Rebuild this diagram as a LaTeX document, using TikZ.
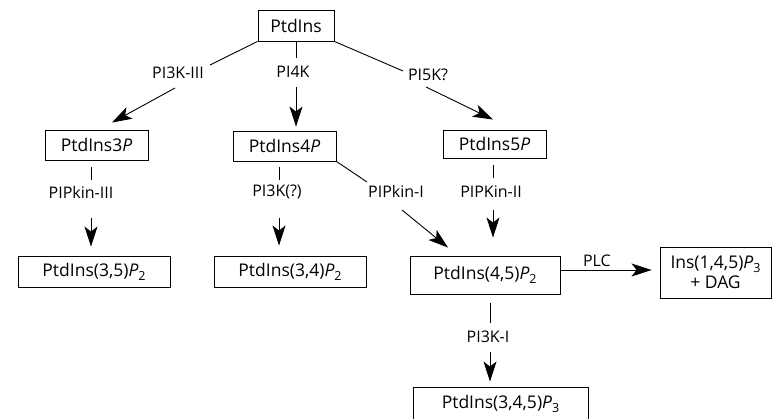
\documentclass[tikz,border=0pt]{standalone}
\usepackage{fontspec}
\setmainfont{Open Sans}
\usetikzlibrary{arrows.meta,calc}
\newcommand\mysub[1]{\raisebox{-0.4ex}{\fontsize{12.5}{12.5}\selectfont #1}}
\begin{document}
\begin{tikzpicture}[x=1pt,y=-1pt,
  font=\fontsize{17.5}{20}\selectfont,
  box/.style={draw, line width=0.9pt, inner sep=0pt},
  lab/.style={inner sep=0pt, font=\fontsize{16}{18}\selectfont},
  ln/.style={line width=0.9pt},
  arr/.style={line width=0.9pt, -{Stealth[length=20pt,width=13pt,inset=5pt]}}]
\useasboundingbox (0,0) rectangle (773,419);
\clip (0,0) rectangle (773,419);
% boxes
\node[box, minimum width=76pt, minimum height=31pt] (n0) at (296,25.5) {PtdIns};
\node[box, minimum width=103pt, minimum height=30pt] (n3) at (96.5,145) {PtdIns3\textit{P}};
\node[box, minimum width=103pt, minimum height=30pt] (n4) at (284.5,146) {PtdIns4\textit{P}};
\node[box, minimum width=103pt, minimum height=28pt] (n5) at (494.5,144) {PtdIns5\textit{P}};
\node[box, minimum width=152pt, minimum height=31pt] (n35) at (94,271.5) {PtdIns(3,5)\textit{P}\mysub{2}};
\node[box, minimum width=152pt, minimum height=31pt] (n34) at (290,271.5) {PtdIns(3,4)\textit{P}\mysub{2}};
\node[box, minimum width=150pt, minimum height=38pt] (n45) at (485,275) {PtdIns(4,5)\textit{P}\mysub{2}};
\node[box, minimum width=111pt, minimum height=51pt, align=center, font=\fontsize{17.5}{20}\selectfont] (ni) at (715.5,272.5) {Ins(1,4,5)\textit{P}\mysub{3}\\+ DAG};
\node[box, minimum width=175pt, minimum height=34pt] (n345) at (500.5,404) {PtdIns(3,4,5)\textit{P}\mysub{3}};
% labels
\node[lab] (l1) at (178,73) {PI3K-III};
\node[lab] (l2) at (293,71.5) {PI4K};
\node[lab] (l3) at (428,75) {PI5K?};
\node[lab] (l4) at (81,192) {PIPkin-III};
\node[lab] (l5) at (277,192) {PI3K(?)};
\node[lab] (l6) at (396,191) {PIPkin-I};
\node[lab] (l7) at (491,192) {PIPKin-II};
\node[lab] (l9) at (488,337) {PI3K-I};
% connectors
\draw[ln] (n0.south west) -- ($(l1)+(32,-8)$);
\draw[arr] ($(l1)+(-3,15)$) -- ($(n3.north)+(15.5,-7)$);
\draw[ln] (n0.south) -- ($(l2)+(3,-13)$);
\draw[arr] ($(l2)+(3,15.5)$) -- ($(n4.north)+(11.5,-4)$);
\draw[ln] (n0.south east) -- ($(l3)+(-25,-4)$);
\draw[arr] ($(l3)+(-2,12)$) -- ($(n5.north)+(-1.5,-10)$);
\draw[ln] ($(n3.south)+(-5.5,7)$) -- ($(l4)+(10,-12)$);
\draw[arr] ($(l4)+(10,26)$) -- ($(n35.north)+(-3,-9)$);
\draw[ln] ($(n4.south)+(-5.5,6)$) -- ($(l5)+(2,-12)$);
\draw[arr] ($(l5)+(2,26)$) -- ($(n34.north)+(-11,-10)$);
\draw[ln] (n4.south east) -- ($(l6)+(-29,-9)$);
\draw[arr] ($(l6)+(6,19)$) -- ($(n45.north)+(-37,-8)$);
\draw[ln] ($(n5.south)+(-1.5,7)$) -- ($(l7)+(2,-14)$);
\draw[arr] ($(l7)+(2,18)$) -- ($(n45.north)+(8,-18)$);
\draw[arr] ($(n45.east)+(0,-5)$) -- node[pos=0.4, above=3pt, inner sep=0pt, font=\fontsize{16}{18}\selectfont] (plc) {PLC} ($(ni.west)+(-8,-2.5)$);
\draw[ln] ($(n45.south)+(5,9)$) -- ($(l9)+(2,-14)$);
\draw[arr] ($(l9)+(2,15)$) -- ($(n345.north)+(-10.5,-5)$);
\end{tikzpicture}
\end{document}
